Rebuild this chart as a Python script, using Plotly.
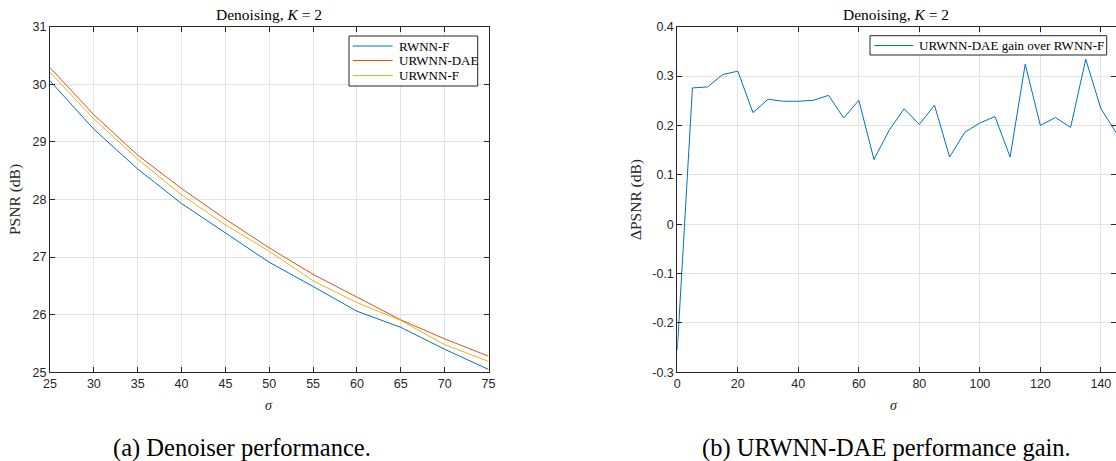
import plotly.graph_objects as go

# Denoiser PSNR versus noise level sigma (K = 2)
sigma_a = [25, 30, 35, 40, 45, 50, 55, 60, 65, 70, 75]
psnr_rwnn_f = [30.06, 29.22, 28.53, 27.93, 27.42, 26.91, 26.49, 26.06, 25.78, 25.40, 25.05]
psnr_urwnn_dae = [30.29, 29.47, 28.77, 28.19, 27.66, 27.16, 26.70, 26.30, 25.91, 25.58, 25.28]
psnr_urwnn_f = [30.21, 29.40, 28.70, 28.08, 27.56, 27.10, 26.59, 26.21, 25.90, 25.48, 25.19]

# PSNR gain of URWNN-DAE over RWNN-F
sigma_b = [0, 5, 10, 15, 20, 25, 30, 35, 40, 45, 50, 55, 60, 65, 70, 75, 80, 85,
           90, 95, 100, 105, 110, 115, 120, 125, 130, 135, 140, 145]
gain = [-0.255, 0.276, 0.278, 0.303, 0.310, 0.226, 0.253, 0.249, 0.249, 0.251,
        0.261, 0.215, 0.251, 0.131, 0.190, 0.234, 0.202, 0.241, 0.136, 0.186,
        0.205, 0.218, 0.136, 0.324, 0.200, 0.216, 0.196, 0.334, 0.234, 0.186]

xticks_a = [25, 30, 35, 40, 45, 50, 55, 60, 65, 70, 75]
yticks_a = [25, 26, 27, 28, 29, 30, 31]
xticks_b = [0, 20, 40, 60, 80, 100, 120, 140]
yticks_b = [-0.3, -0.2, -0.1, 0, 0.1, 0.2, 0.3, 0.4]
ytext_b = ["-0.3", "-0.2", "-0.1", "0", "0.1", "0.2", "0.3", "0.4"]

names_a = ["RWNN-F", "URWNN-DAE", "URWNN-F"]
name_b = "URWNN-DAE gain over RWNN-F"

BLUE, RED, YELLOW = "#0072BD", "#D95319", "#EDB120"
AXC = "#262626"
GRID = "#e3e3e3"
SANS = "Liberation Sans, Arial, sans-serif"
SERIF = "Liberation Serif, Times New Roman, serif"

W, H = 1116, 461


def px_x(p):
    return p / W


def px_y(p):
    return 1 - p / H


fig = go.Figure()

for yvals, nm, col in zip([psnr_rwnn_f, psnr_urwnn_dae, psnr_urwnn_f], names_a,
                          [BLUE, RED, YELLOW]):
    fig.add_trace(go.Scatter(x=sigma_a, y=yvals, mode="lines", name=nm,
                             line=dict(color=col, width=1), xaxis="x", yaxis="y",
                             showlegend=False))
fig.add_trace(go.Scatter(x=sigma_b, y=gain, mode="lines", name=name_b,
                         line=dict(color=BLUE, width=1), xaxis="x2", yaxis="y2",
                         showlegend=False))
# empty trace so the right-hand tick axis of panel (b) is rendered
fig.add_trace(go.Scatter(x=[None], y=[None], xaxis="x2", yaxis="y3",
                         showlegend=False, hoverinfo="skip"))

axis_common = dict(
    showline=True, linecolor=AXC, linewidth=1, ticks="inside", ticklen=5,
    tickcolor=AXC, tickwidth=1, showgrid=True, gridcolor=GRID, gridwidth=1,
    zeroline=False, automargin=False,
    tickfont=dict(family=SANS, size=12.5, color=AXC),
)

fig.update_layout(
    template="none",
    width=W, height=H,
    margin=dict(l=0, r=0, t=0, b=0, pad=0),
    paper_bgcolor="white", plot_bgcolor="white",
    showlegend=False,
    xaxis=dict(domain=[px_x(50), px_x(488.5)], range=[25, 75], tickvals=xticks_a,
               anchor="y", mirror="ticks", **axis_common),
    yaxis=dict(domain=[px_y(372.3), px_y(26.7)], range=[25, 31], tickvals=yticks_a,
               anchor="x", mirror="ticks", **axis_common),
    xaxis2=dict(domain=[px_x(677.3), 1.0], range=[0, 145], tickvals=xticks_b,
                anchor="y2", mirror="ticks", **axis_common),
    yaxis2=dict(domain=[px_y(372.3), px_y(26.7)], range=[-0.3, 0.4], tickvals=yticks_b,
                ticktext=ytext_b, anchor="x2", mirror=False, **axis_common),
    yaxis3=dict(overlaying="y2", anchor="free", position=1.0, side="right",
                range=[-0.3, 0.4], tickvals=yticks_b, showticklabels=False,
                ticks="inside", ticklen=5, tickcolor=AXC, showline=False,
                showgrid=False, zeroline=False, automargin=False),
)

shapes = []
ann = []

# legend of panel (a)
shapes.append(dict(type="rect", xref="paper", yref="paper",
                   x0=px_x(349), x1=px_x(477.7), y0=px_y(86), y1=px_y(36),
                   line=dict(color=AXC, width=1), fillcolor="white", layer="above"))
for row_y, nm, col in zip([46, 60.5, 75.5], names_a, [BLUE, RED, YELLOW]):
    shapes.append(dict(type="line", xref="paper", yref="paper",
                       x0=px_x(352.7), x1=px_x(392.7), y0=px_y(row_y), y1=px_y(row_y),
                       line=dict(color=col, width=1), layer="above"))
    ann.append(dict(x=px_x(396.5), y=px_y(row_y), xref="paper", yref="paper",
                    text=nm, showarrow=False, xanchor="left", yanchor="middle",
                    font=dict(family=SERIF, size=13, color="#000000")))

# legend of panel (b)
shapes.append(dict(type="rect", xref="paper", yref="paper",
                   x0=px_x(870), x1=px_x(1106.7), y0=px_y(55), y1=px_y(35.7),
                   line=dict(color=AXC, width=1), fillcolor="white", layer="above"))
shapes.append(dict(type="line", xref="paper", yref="paper",
                   x0=px_x(874.3), x1=px_x(913.3), y0=px_y(45.5), y1=px_y(45.5),
                   line=dict(color=BLUE, width=1), layer="above"))
ann.append(dict(x=px_x(916.5), y=px_y(45.5), xref="paper", yref="paper",
                text=name_b, showarrow=False, xanchor="left", yanchor="middle",
                font=dict(family=SERIF, size=13, color="#000000")))

# panel titles
for cx in (269, 896):
    ann.append(dict(x=px_x(cx), y=px_y(14), xref="paper", yref="paper",
                    text="Denoising, <i>K</i> = 2", showarrow=False,
                    font=dict(family=SERIF, size=15.5, color="#000000"),
                    xanchor="center", yanchor="middle"))
# x-axis titles
for cx in (269, 894):
    ann.append(dict(x=px_x(cx), y=px_y(405), xref="paper", yref="paper",
                    text="<i>σ</i>", showarrow=False,
                    font=dict(family=SERIF, size=14, color=AXC),
                    xanchor="center", yanchor="middle"))
# y-axis titles
ann.append(dict(x=px_x(15), y=px_y(200), xref="paper", yref="paper",
                text="PSNR (dB)", showarrow=False, textangle=-90,
                font=dict(family=SERIF, size=15.5, color=AXC),
                xanchor="center", yanchor="middle"))
ann.append(dict(x=px_x(636), y=px_y(200), xref="paper", yref="paper",
                text="ΔPSNR (dB)", showarrow=False, textangle=-90,
                font=dict(family=SERIF, size=15.5, color=AXC),
                xanchor="center", yanchor="middle"))
# sub-figure captions
ann.append(dict(x=px_x(241.5), y=px_y(448), xref="paper", yref="paper",
                text="(a) Denoiser performance.", showarrow=False,
                font=dict(family=SERIF, size=24.5, color="#000000"),
                xanchor="center", yanchor="middle"))
ann.append(dict(x=px_x(886), y=px_y(448), xref="paper", yref="paper",
                text="(b) URWNN-DAE performance gain.", showarrow=False,
                font=dict(family=SERIF, size=24.5, color="#000000"),
                xanchor="center", yanchor="middle"))

fig.update_layout(shapes=shapes, annotations=ann)

fig.write_html("out.html")
